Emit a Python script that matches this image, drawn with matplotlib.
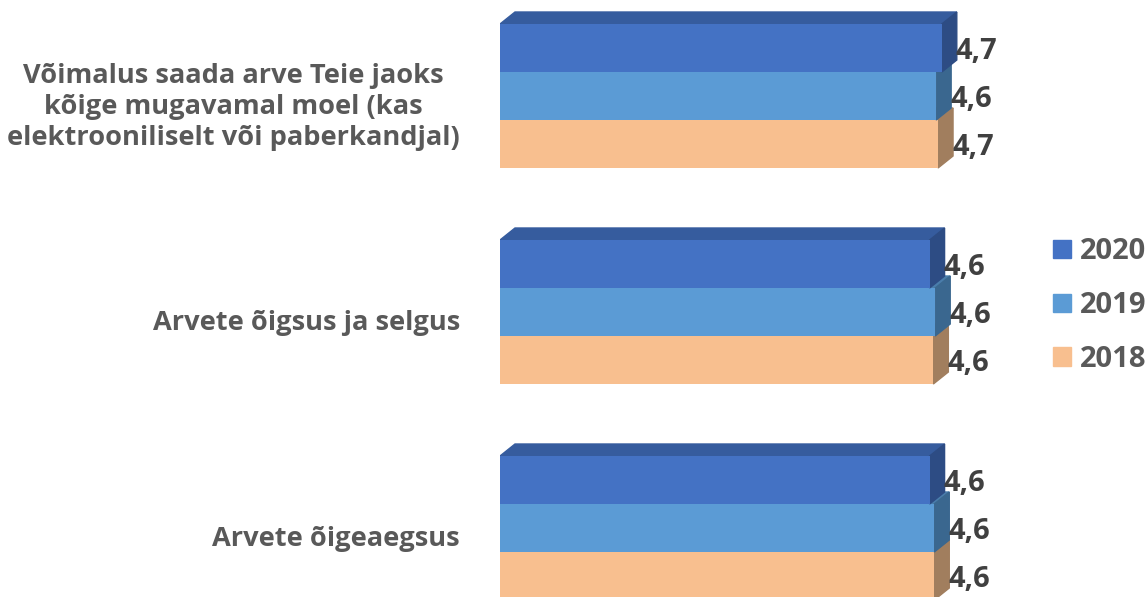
import matplotlib.pyplot as plt
from matplotlib.patches import Polygon, Patch

plt.rcParams['font.family'] = ['Open Sans', 'DejaVu Sans']

categories = ['Võimalus saada arve Teie jaoks\nkõige mugavamal moel (kas\nelektrooniliselt või paberkandjal)',
              'Arvete õigsus ja selgus',
              'Arvete õigeaegsus']
years = ['2020', '2019', '2018']
v2020 = [4.70, 4.57, 4.57]
v2019 = [4.64, 4.63, 4.62]
v2018 = [4.66, 4.61, 4.62]

front = {'2020': '#4472C4', '2019': '#5B9BD5', '2018': '#F8BF8F'}
top = {'2020': '#365C9E', '2019': '#4A7DAB', '2018': '#C89A72'}
side = {'2020': '#2D4C84', '2019': '#3A678F', '2018': '#A17E5E'}

fig = plt.figure(figsize=(11.48, 5.97), dpi=100)
W, H = 1148, 597
ax_left, ax_w = 500, 648
ax = fig.add_axes([ax_left / W, 0, ax_w / W, 1])

px_x = 94.0    # pixels per unit on x
px_y = 216.0   # pixels per category
ax.set_xlim(0, ax_w / px_x)
ax.set_ylim((H - 96) / px_y, -96 / px_y)
ax.axis('off')

bh = 48 / px_y
dx = 15 / px_x
dy = 12 / px_y

# draw bottom bar of each group first so the one above covers its top face
series = [('2018', v2018, bh), ('2019', v2019, 0), ('2020', v2020, -bh)]
for z, (yr, vals, off) in enumerate(series):
    for i, v in enumerate(vals):
        y0 = i + off - bh / 2   # upper edge (inverted axis)
        y1 = i + off + bh / 2
        zo = 2 + z
        ax.barh(i + off, v, height=bh, color=front[yr], zorder=zo + 0.2)
        ax.add_patch(Polygon([(0, y0), (dx, y0 - dy), (v + dx, y0 - dy), (v, y0)],
                             closed=True, color=top[yr], zorder=zo))
        ax.add_patch(Polygon([(v, y0), (v + dx, y0 - dy), (v + dx, y1 - dy), (v, y1)],
                             closed=True, color=side[yr], zorder=zo + 0.1))
        ax.text(v + dx - 0.01, i + off + 0.014, f'{v:.1f}'.replace('.', ','),
                ha='left', va='center', fontsize=21, fontweight='bold',
                color='#404040', zorder=10)

for i, c in enumerate(categories):
    ax.text(-40 / px_x, i + 0.05, c, ha='right', va='center', multialignment='center',
            fontsize=19.6, fontweight='bold', color='#595959', linespacing=1.24)

handles = [Patch(color=front[y]) for y in years]
leg = fig.legend(handles, years, loc='upper left', bbox_to_anchor=(1030 / W, 1 - 214 / H),
                 frameon=False, fontsize=21, handlelength=0.6, handleheight=0.6,
                 handletextpad=0.3, labelspacing=0.85, borderpad=0.3)
for t in leg.get_texts():
    t.set_fontweight('bold')
    t.set_color('#595959')

fig.savefig('out.png', dpi=100)
